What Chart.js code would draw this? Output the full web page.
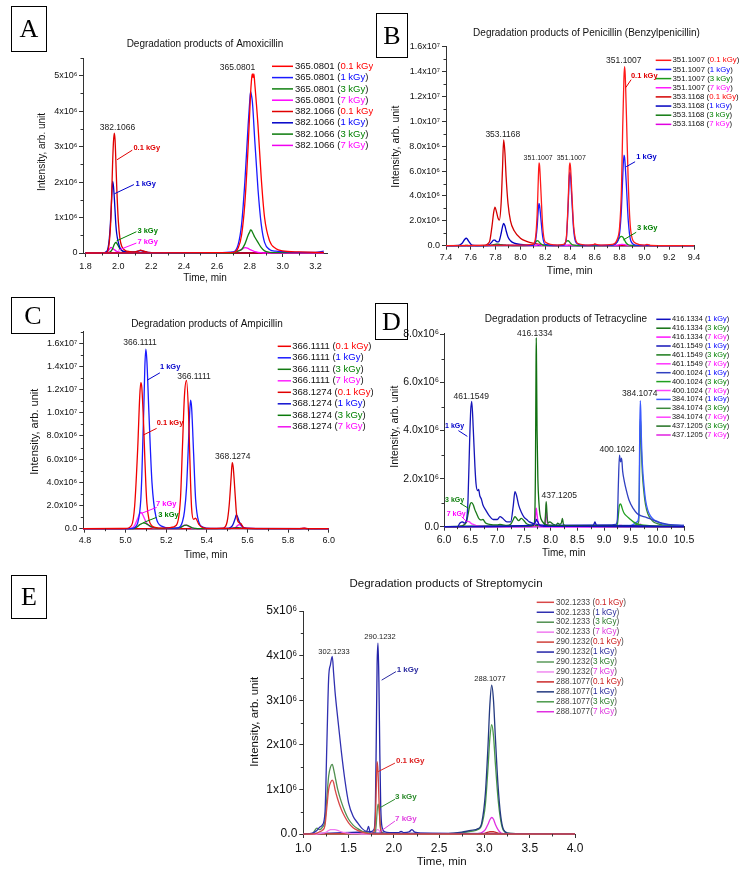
<!DOCTYPE html>
<html><head><meta charset="utf-8">
<script src="https://cdn.jsdelivr.net/npm/chart.js@4.4.1/dist/chart.umd.min.js"></script>
<style>
html,body{margin:0;padding:0;background:#fff;}
#page{position:relative;width:746px;height:874px;overflow:hidden;background:#fff;}
canvas{position:absolute;}
.tag{position:absolute;border:1px solid #000;font-family:"Liberation Serif","Times New Roman",serif;font-size:26px;display:flex;align-items:center;justify-content:center;box-sizing:border-box;color:#000;}
</style></head>
<body><div id="page">
<canvas id="cA" width="373" height="292" style="left:0px;top:0px;width:373px;height:292px"></canvas>
<canvas id="cB" width="373" height="292" style="left:373px;top:0px;width:373px;height:292px"></canvas>
<canvas id="cC" width="373" height="280" style="left:0px;top:292px;width:373px;height:280px"></canvas>
<canvas id="cD" width="373" height="280" style="left:373px;top:292px;width:373px;height:280px"></canvas>
<canvas id="cE" width="746" height="302" style="left:0px;top:572px;width:746px;height:302px"></canvas>
<div class="tag" style="left:11px;top:6px;width:36px;height:46px">A</div>
<div class="tag" style="left:376px;top:13px;width:32px;height:45px">B</div>
<div class="tag" style="left:11px;top:297px;width:44px;height:37px">C</div>
<div class="tag" style="left:375px;top:303px;width:33px;height:37px">D</div>
<div class="tag" style="left:11px;top:575px;width:36px;height:44px">E</div>
</div>
<script>
// ===== DATA (time in min; intensity in units of 10^6 counts) =====
// --- A: Amoxicillin ---
const A_xTicks = [1.8, 2.0, 2.2, 2.4, 2.6, 2.8, 3.0, 3.2];
const A_yTicks = [0, 1, 2, 3, 4, 5];
const A_t365 = [1.80, 2.60, 2.70, 2.73, 2.75, 2.77, 2.79, 2.80, 2.805, 2.81, 2.815, 2.82, 2.825, 2.83, 2.85, 2.87, 2.89, 2.92, 2.96, 3.00, 3.10, 3.20, 3.25];
const A_365_01 = [0, 0.01, 0.02, 0.15, 0.5, 1.4, 3.0, 4.0, 4.5, 4.85, 5.05, 4.95, 5.05, 4.8, 3.6, 2.1, 1.0, 0.35, 0.12, 0.06, 0.03, 0.02, 0.02];
const A_365_1  = [0, 0.01, 0.03, 0.25, 0.8, 2.0, 3.6, 4.3, 4.55, 4.45, 4.3, 4.0, 3.6, 3.2, 1.8, 0.8, 0.3, 0.1, 0.05, 0.04, 0.02, 0.02, 0.05];
const A_365_3  = [0, 0, 0, 0.06, 0.1, 0.25, 0.5, 0.6, 0.65, 0.64, 0.6, 0.55, 0.5, 0.45, 0.3, 0.15, 0.06, 0.02, 0.01, 0.01, 0.01, 0.01, 0.01];
const A_365_7  = [0, 0, 0.01, 0.06, 0.1, 0.15, 0.13, 0.1, 0.09, 0.08, 0.07, 0.06, 0.05, 0.04, 0.02, 0.01, 0, 0, 0, 0, 0, 0, 0];
const A_t382 = [1.80, 1.90, 1.93, 1.945, 1.955, 1.96, 1.965, 1.97, 1.975, 1.98, 1.985, 1.99, 2.00, 2.01, 2.02, 2.04, 2.07, 2.10, 2.12, 2.135, 2.15, 2.18, 2.30, 3.25];
const A_382_01 = [0, 0, 0.02, 0.3, 1.0, 1.7, 2.5, 3.1, 3.38, 3.2, 2.6, 1.9, 0.9, 0.4, 0.2, 0.08, 0.04, 0.03, 0.05, 0.08, 0.06, 0.02, 0, 0];
const A_382_1  = [0, 0, 0.05, 0.4, 1.1, 1.6, 2.02, 1.9, 1.6, 1.2, 0.8, 0.55, 0.3, 0.15, 0.08, 0.04, 0.03, 0.03, 0.05, 0.07, 0.05, 0.02, 0, 0];
const A_382_3  = [0, 0, 0, 0.02, 0.05, 0.08, 0.12, 0.18, 0.24, 0.28, 0.30, 0.28, 0.2, 0.12, 0.07, 0.03, 0.01, 0, 0, 0, 0, 0, 0, 0];
const A_382_7  = [0, 0, 0.02, 0.1, 0.16, 0.15, 0.13, 0.11, 0.09, 0.08, 0.06, 0.05, 0.03, 0.02, 0.01, 0, 0, 0, 0, 0, 0, 0, 0, 0];

// --- B: Penicillin ---
const B_xTicks = [7.4, 7.6, 7.8, 8.0, 8.2, 8.4, 8.6, 8.8, 9.0, 9.2, 9.4];
const B_yTicks = [0, 2, 4, 6, 8, 10, 12, 14, 16];
const B_t351 = [7.40, 8.00, 8.10, 8.12, 8.135, 8.145, 8.15, 8.155, 8.165, 8.18, 8.20, 8.30, 8.35, 8.37, 8.385, 8.395, 8.40, 8.405, 8.415, 8.43, 8.46, 8.55, 8.59, 8.60, 8.61, 8.65, 8.74, 8.78, 8.80, 8.815, 8.825, 8.835, 8.84, 8.845, 8.855, 8.87, 8.89, 8.93, 9.00, 9.02, 9.05, 9.40];
const B_351_01 = [0, 0.05, 0.1, 0.5, 2.5, 5.5, 6.65, 6.4, 4.5, 1.5, 0.3, 0.05, 0.1, 0.6, 3.5, 6.3, 6.65, 6.2, 4.2, 1.5, 0.2, 0.05, 0.08, 0.15, 0.1, 0.05, 0.1, 0.5, 1.5, 4.5, 9.5, 13.5, 14.4, 13.8, 10.5, 5.0, 1.2, 0.2, 0.05, 0.1, 0.03, 0];
const B_351_1  = [0, 0.02, 0.03, 0.3, 1.5, 3.0, 3.4, 3.2, 2.2, 0.7, 0.1, 0.02, 0.05, 0.5, 3.2, 5.6, 5.9, 5.5, 3.7, 1.2, 0.15, 0.02, 0.05, 0.1, 0.05, 0.02, 0.05, 0.3, 1.0, 3.0, 5.5, 7.28, 7.1, 6.5, 4.8, 2.0, 0.4, 0.05, 0.02, 0.03, 0.01, 0];
const B_351_3  = [0, 0.01, 0.05, 0.25, 0.4, 0.38, 0.3, 0.25, 0.15, 0.05, 0.02, 0.01, 0.1, 0.35, 0.4, 0.32, 0.25, 0.2, 0.1, 0.04, 0.01, 0, 0, 0.02, 0, 0, 0.05, 0.3, 0.65, 0.75, 0.7, 0.55, 0.45, 0.35, 0.2, 0.08, 0.02, 0.01, 0, 0, 0, 0];
const B_351_7  = [0, 0.01, 0.01, 0.02, 0.05, 0.06, 0.06, 0.05, 0.04, 0.02, 0.01, 0.01, 0.01, 0.02, 0.04, 0.05, 0.05, 0.04, 0.03, 0.02, 0.01, 0.01, 0.02, 0.05, 0.02, 0.01, 0.02, 0.05, 0.08, 0.1, 0.1, 0.09, 0.08, 0.07, 0.05, 0.03, 0.02, 0.01, 0.01, 0.02, 0.01, 0];
const B_t353 = [7.40, 7.50, 7.53, 7.55, 7.565, 7.58, 7.61, 7.70, 7.75, 7.77, 7.785, 7.795, 7.805, 7.82, 7.83, 7.845, 7.855, 7.865, 7.875, 7.885, 7.90, 7.92, 7.95, 8.00, 8.05, 8.10, 8.20, 8.40, 9.40];
const B_353_01 = [0, 0, 0, 0, 0, 0, 0, 0.02, 0.3, 1.5, 2.7, 3.1, 2.8, 2.2, 2.05, 3.5, 6.0, 8.5, 7.5, 5.5, 3.4, 2.0, 1.2, 0.6, 0.35, 0.2, 0.05, 0.02, 0];
const B_353_1  = [0, 0.02, 0.2, 0.5, 0.6, 0.4, 0.05, 0.01, 0.1, 0.3, 0.45, 0.45, 0.35, 0.3, 0.4, 1.0, 1.5, 1.8, 1.6, 1.2, 0.7, 0.4, 0.2, 0.1, 0.05, 0.03, 0.02, 0, 0];
const B_353_3  = [0, 0, 0, 0.01, 0.02, 0.01, 0, 0, 0.02, 0.05, 0.08, 0.1, 0.12, 0.12, 0.1, 0.08, 0.06, 0.05, 0.04, 0.03, 0.02, 0.01, 0.01, 0, 0, 0, 0, 0, 0];
const B_353_7  = [0, 0, 0, 0, 0.01, 0, 0, 0, 0.01, 0.03, 0.05, 0.06, 0.07, 0.08, 0.08, 0.07, 0.06, 0.05, 0.04, 0.03, 0.02, 0.02, 0.01, 0.01, 0, 0, 0, 0, 0];

// --- C: Ampicillin ---
const C_xTicks = [4.8, 5.0, 5.2, 5.4, 5.6, 5.8, 6.0];
const C_yTicks = [0, 2, 4, 6, 8, 10, 12, 14, 16];
const C_t366 = [4.79, 5.00, 5.03, 5.045, 5.06, 5.07, 5.075, 5.08, 5.09, 5.095, 5.10, 5.105, 5.115, 5.13, 5.15, 5.18, 5.22, 5.25, 5.27, 5.28, 5.29, 5.30, 5.31, 5.315, 5.32, 5.325, 5.335, 5.345, 5.36, 5.38, 5.42, 6.00];
const C_366_01 = [0, 0.02, 0.3, 2.0, 7.0, 11.5, 12.6, 12.2, 8.5, 6.0, 3.8, 2.2, 0.8, 0.25, 0.1, 0.05, 0.1, 0.3, 2.5, 7.0, 11.5, 12.8, 10.0, 7.0, 4.0, 1.8, 0.8, 0.9, 0.4, 0.1, 0.02, 0];
const C_366_1  = [0, 0, 0.02, 0.1, 0.5, 1.5, 2.5, 4.5, 10.5, 14.0, 15.5, 14.5, 10.0, 4.0, 1.0, 0.2, 0.05, 0.05, 0.2, 0.6, 1.5, 3.5, 7.5, 9.8, 11.1, 10.5, 6.5, 2.5, 0.6, 0.15, 0.02, 0];
const C_366_3  = [0, 0, 0, 0.05, 0.2, 0.35, 0.4, 0.45, 0.5, 0.48, 0.45, 0.4, 0.3, 0.15, 0.05, 0.02, 0.02, 0.05, 0.1, 0.2, 0.28, 0.3, 0.25, 0.2, 0.15, 0.1, 0.05, 0.02, 0, 0, 0, 0];
const C_366_7  = [0, 0, 0.05, 0.3, 0.9, 1.3, 1.4, 1.35, 1.0, 0.8, 0.6, 0.45, 0.25, 0.1, 0.05, 0.02, 0.02, 0.05, 0.1, 0.2, 0.3, 0.3, 0.2, 0.15, 0.1, 0.05, 0.02, 0.01, 0, 0, 0, 0];
const C_t368 = [4.79, 5.40, 5.48, 5.50, 5.51, 5.52, 5.525, 5.53, 5.54, 5.545, 5.55, 5.56, 5.57, 5.58, 5.60, 5.70, 5.85, 5.88, 5.90, 6.00];
const C_368_01 = [0, 0, 0.05, 0.6, 2.0, 4.5, 5.7, 5.3, 2.8, 1.5, 0.8, 0.5, 0.4, 0.1, 0.03, 0.01, 0.01, 0.05, 0.01, 0];
const C_368_1  = [0, 0, 0, 0.02, 0.05, 0.15, 0.25, 0.4, 0.9, 1.2, 1.1, 0.6, 0.3, 0.1, 0.03, 0.01, 0.01, 0.02, 0.01, 0];
const C_368_3  = [0, 0, 0, 0, 0.01, 0.02, 0.03, 0.05, 0.08, 0.1, 0.1, 0.08, 0.05, 0.02, 0.01, 0, 0, 0, 0, 0];
const C_368_7  = [0, 0, 0, 0, 0.01, 0.02, 0.03, 0.05, 0.1, 0.15, 0.25, 0.35, 0.25, 0.1, 0.03, 0.01, 0.01, 0.02, 0.01, 0];

// --- D: Tetracycline ---
const D_xTicks = [6.0, 6.5, 7.0, 7.5, 8.0, 8.5, 9.0, 9.5, 10.0, 10.5];
const D_yTicks = [0, 2, 4, 6, 8];
const D_t416 = [6.00, 7.60, 7.68, 7.70, 7.715, 7.725, 7.73, 7.735, 7.745, 7.76, 7.78, 7.80, 7.85, 7.90, 8.00, 10.50];
const D_416_1 = [0, 0.05, 0.1, 0.15, 0.2, 0.25, 0.3, 0.3, 0.25, 0.2, 0.1, 0.05, 0.02, 0.01, 0.01, 0];
const D_416_3 = [0, 0.02, 0.05, 0.3, 2.5, 6.5, 7.87, 6.8, 4.0, 2.0, 1.0, 0.5, 0.2, 0.1, 0.05, 0];
const D_416_7 = [0, 0, 0.01, 0.1, 0.4, 0.7, 0.77, 0.7, 0.5, 0.25, 0.08, 0.03, 0.01, 0, 0, 0];
const D_t461 = [6.00, 6.25, 6.30, 6.35, 6.38, 6.42, 6.45, 6.48, 6.50, 6.52, 6.55, 6.58, 6.60, 6.63, 6.65, 6.67, 6.70, 6.73, 6.78, 6.85, 6.92, 7.00, 7.05, 7.10, 7.18, 7.25, 7.30, 7.33, 7.36, 7.40, 7.45, 7.50, 7.55, 7.60, 7.70, 7.80, 8.00, 8.50, 8.80, 8.83, 8.86, 9.00, 9.10, 10.50];
const D_461_1 = [0, 0, 0.15, 0.2, 0.15, 0.25, 1.1, 3.5, 4.8, 5.22, 4.0, 2.5, 1.8, 1.5, 1.55, 1.3, 1.15, 0.9, 0.7, 0.45, 0.3, 0.3, 0.42, 0.35, 0.2, 0.2, 0.9, 1.46, 1.3, 0.9, 0.6, 0.4, 0.3, 0.2, 0.12, 0.08, 0.05, 0.05, 0.05, 0.2, 0.05, 0.05, 0.05, 0];
const D_461_3 = [0, 0, 0.02, 0.05, 0.08, 0.2, 0.5, 0.85, 0.98, 1.0, 0.9, 0.7, 0.6, 0.45, 0.35, 0.3, 0.28, 0.3, 0.15, 0.1, 0.08, 0.08, 0.1, 0.08, 0.05, 0.1, 0.3, 0.42, 0.35, 0.25, 0.35, 0.25, 0.12, 0.08, 0.05, 0.04, 0.03, 0.02, 0.02, 0.02, 0.02, 0.02, 0.02, 0];
const D_461_7 = [0, 0, 0.02, 0.05, 0.1, 0.2, 0.22, 0.2, 0.15, 0.12, 0.1, 0.07, 0.05, 0.04, 0.03, 0.02, 0.02, 0.02, 0.01, 0.01, 0.01, 0.01, 0.01, 0.01, 0.01, 0.01, 0.01, 0.01, 0.01, 0.01, 0.01, 0.01, 0.01, 0.01, 0.01, 0.01, 0, 0, 0, 0, 0, 0, 0, 0];
const D_t400 = [6.00, 9.15, 9.22, 9.25, 9.27, 9.29, 9.31, 9.33, 9.35, 9.38, 9.42, 9.47, 9.55, 9.62, 9.70, 9.80, 9.90, 10.00, 10.20, 10.50];
const D_400_1 = [0, 0.08, 0.1, 0.3, 1.8, 2.98, 2.7, 2.85, 2.3, 1.9, 1.5, 1.1, 0.75, 0.55, 0.45, 0.38, 0.3, 0.2, 0.1, 0.05];
const D_400_3 = [0, 0.03, 0.05, 0.1, 0.5, 0.9, 0.95, 0.85, 0.7, 0.55, 0.45, 0.35, 0.2, 0.12, 0.08, 0.05, 0.03, 0.02, 0.01, 0];
const D_400_7 = [0, 0, 0, 0.01, 0.03, 0.05, 0.05, 0.05, 0.04, 0.03, 0.02, 0.01, 0.01, 0.01, 0.01, 0.01, 0, 0, 0, 0];
const D_t384 = [6.00, 9.50, 9.62, 9.65, 9.66, 9.67, 9.68, 9.69, 9.70, 9.72, 9.75, 9.78, 9.82, 9.87, 9.93, 10.00, 10.10, 10.25, 10.50];
const D_384_1 = [0, 0.05, 0.2, 0.4, 1.5, 4.0, 5.25, 4.8, 3.8, 2.6, 1.7, 1.1, 0.7, 0.45, 0.3, 0.22, 0.12, 0.08, 0.05];
const D_384_3 = [0, 0.03, 0.1, 0.2, 1.0, 3.0, 4.5, 4.2, 3.3, 2.2, 1.4, 0.9, 0.55, 0.35, 0.2, 0.13, 0.08, 0.05, 0.03];
const D_384_7 = [0, 0, 0.02, 0.05, 0.08, 0.1, 0.12, 0.1, 0.08, 0.05, 0.03, 0.02, 0.01, 0.01, 0, 0, 0, 0, 0];
const D_t437 = [6.00, 7.85, 7.89, 7.905, 7.915, 7.925, 7.935, 7.95, 7.98, 8.05, 8.10, 8.13, 8.17, 8.20, 8.22, 8.24, 8.30, 10.50];
const D_437_3 = [0, 0.02, 0.1, 0.6, 1.04, 0.8, 0.4, 0.15, 0.2, 0.1, 0.05, 0.15, 0.1, 0.15, 0.35, 0.1, 0.02, 0];
const D_437_7 = [0, 0, 0.05, 0.4, 0.7, 0.5, 0.2, 0.05, 0.02, 0.01, 0, 0, 0, 0, 0, 0, 0, 0];

// --- E: Streptomycin ---
const E_xTicks = [1.0, 1.5, 2.0, 2.5, 3.0, 3.5, 4.0];
const E_yTicks = [0, 1, 2, 3, 4, 5];
const E_t302 = [1.00, 1.10, 1.15, 1.18, 1.21, 1.24, 1.26, 1.28, 1.30, 1.32, 1.335, 1.35, 1.38, 1.42, 1.46, 1.50, 1.55, 1.60, 1.65, 1.70, 1.72, 1.74, 1.78, 4.00];
const E_302_01 = [0, 0, 0.02, 0.05, 0.08, 0.2, 0.6, 1.0, 1.15, 1.21, 1.15, 1.0, 0.78, 0.55, 0.38, 0.25, 0.14, 0.08, 0.04, 0.02, 0.01, 0.01, 0, 0];
const E_302_1  = [0, 0.02, 0.08, 0.15, 0.2, 0.5, 2.0, 3.5, 3.8, 3.98, 3.6, 3.2, 2.6, 1.85, 1.2, 0.7, 0.4, 0.25, 0.12, 0.06, 0.17, 0.02, 0.02, 0];
const E_302_3  = [0, 0.01, 0.13, 0.1, 0.15, 0.3, 0.8, 1.3, 1.5, 1.56, 1.45, 1.3, 1.0, 0.72, 0.5, 0.33, 0.2, 0.12, 0.06, 0.03, 0.02, 0.01, 0, 0];
const E_302_7  = [0, 0, 0, 0.01, 0.02, 0.03, 0.05, 0.08, 0.1, 0.1, 0.1, 0.1, 0.08, 0.05, 0.03, 0.02, 0.01, 0.01, 0, 0, 0, 0, 0, 0];
const E_t290 = [1.00, 1.74, 1.78, 1.795, 1.805, 1.815, 1.825, 1.835, 1.845, 1.855, 1.87, 1.90, 1.95, 2.05, 2.08, 2.11, 2.17, 2.20, 2.23, 2.30, 4.00];
const E_290_01 = [0, 0.01, 0.05, 0.3, 1.0, 1.62, 1.4, 0.8, 0.3, 0.08, 0.02, 0.01, 0, 0, 0, 0, 0, 0, 0, 0, 0];
const E_290_1  = [0, 0.05, 0.1, 0.5, 2.0, 3.8, 4.28, 3.4, 1.8, 0.6, 0.15, 0.05, 0.03, 0.03, 0.06, 0.03, 0.05, 0.1, 0.04, 0.02, 0];
const E_290_3  = [0, 0, 0.01, 0.05, 0.2, 0.5, 0.67, 0.6, 0.35, 0.12, 0.04, 0.01, 0, 0, 0, 0, 0, 0, 0, 0, 0];
const E_290_7  = [0, 0, 0, 0.02, 0.06, 0.1, 0.1, 0.08, 0.05, 0.02, 0.01, 0, 0, 0, 0, 0, 0, 0, 0, 0, 0];
const E_t288 = [1.00, 2.60, 2.75, 2.85, 2.93, 2.97, 3.01, 3.04, 3.06, 3.08, 3.10, 3.12, 3.15, 3.18, 3.21, 3.26, 3.40, 4.00];
const E_288_01 = [0, 0, 0, 0, 0, 0, 0.02, 0.04, 0.05, 0.05, 0.05, 0.04, 0.02, 0.01, 0, 0, 0, 0];
const E_288_1  = [0, 0.01, 0.04, 0.08, 0.12, 0.25, 0.9, 2.0, 2.9, 3.34, 3.0, 2.2, 1.1, 0.4, 0.1, 0.02, 0.01, 0];
const E_288_3  = [0, 0.01, 0.03, 0.06, 0.1, 0.2, 0.65, 1.5, 2.15, 2.45, 2.2, 1.6, 0.8, 0.3, 0.08, 0.02, 0.01, 0];
const E_288_7  = [0, 0, 0, 0, 0.01, 0.03, 0.1, 0.22, 0.32, 0.37, 0.33, 0.22, 0.1, 0.03, 0.01, 0, 0, 0];

// ===== RENDERING =====
const FONT = '"Liberation Sans", Arial, Helvetica, sans-serif';
const AXIS = '#333';
Chart.defaults.font.family = FONT;

function ds(mz, dose, t, v, color, sep) {
  return { label: mz + (sep || ' (') + dose + ')', mz: mz, dose: dose, sep: sep || ' (',
    data: t.map((x, i) => ({ x: x, y: v[i] })), borderColor: color, backgroundColor: color,
    borderWidth: 1.3, pointRadius: 0, fill: false, cubicInterpolationMode: 'monotone', clip: false };
}
const fmtA = v => v === 0 ? '0' : v + 'x10\u2076';
const fmtE = v => v === 0 ? '0.0' : v + 'x10\u2076';
const fmtBC = v => v === 0 ? '0.0' : (v >= 10 ? (v / 10).toFixed(1) + 'x10\u2077' : v.toFixed(1) + 'x10\u2076');
const fmtD = v => v === 0 ? '0.0' : v.toFixed(1) + 'x10\u2076';

const doseStd = { '0.1 kGy': '#ff0000', '1 kGy': '#0000ff', '3 kGy': '#008000', '7 kGy': '#ff00ff' };
const doseE = { '0.1 kGy': '#cc2020', '1 kGy': '#2a2a9a', '3 kGy': '#2a7a2a', '7 kGy': '#dd33dd' };

const panels = [
{ id: 'cA', canvas: [0, 0, 373, 292], plot: [83, 58, 327, 253],
  x: { min: 1.785, max: 3.27, ticks: A_xTicks, minor: 0.1, font: 9, pad: 4 },
  y: { min: 0, max: 5.5, ticks: A_yTicks, minor: 0.5, font: 9, pad: 1.5, fmt: fmtA },
  datasets: [
    ds('365.0801', '0.1 kGy', A_t365, A_365_01, '#ff0000'), ds('365.0801', '1 kGy', A_t365, A_365_1, '#1a1aff'),
    ds('365.0801', '3 kGy', A_t365, A_365_3, '#108010'), ds('365.0801', '7 kGy', A_t365, A_365_7, '#ff00ff'),
    ds('382.1066', '0.1 kGy', A_t382, A_382_01, '#e00000'), ds('382.1066', '1 kGy', A_t382, A_382_1, '#0000c8'),
    ds('382.1066', '3 kGy', A_t382, A_382_3, '#0a7a0a'), ds('382.1066', '7 kGy', A_t382, A_382_7, '#f000f0')],
  title: { text: 'Degradation products of Amoxicillin', x: 205, y: 44, size: 10 },
  xTitle: { x: 205, y: 278, size: 10 }, yTitle: { x: 42, y: 152, size: 10 },
  legend: { x1: 272, x2: 293, tx: 295, y0: 66.3, dy: 11.3, size: 9.5, dc: doseStd, tc: '#111' },
  notes: [
    { t: 1.995, v: 3.54, text: '382.1066', size: 8.5 }, { t: 2.725, v: 5.24, text: '365.0801', size: 8.5 },
    { t: 2.092, v: 2.95, text: '0.1 kGy', size: 7.5, bold: 1, color: '#e00000', left: 1 },
    { t: 2.104, v: 1.95, text: '1 kGy', size: 7.5, bold: 1, color: '#0000cc', left: 1 },
    { t: 2.116, v: 0.62, text: '3 kGy', size: 7.5, bold: 1, color: '#008000', left: 1 },
    { t: 2.116, v: 0.31, text: '7 kGy', size: 7.5, bold: 1, color: '#ff00ff', left: 1 }],
  leaders: [[1.992, 2.63, 2.085, 2.9, '#e00000'], [1.976, 1.67, 2.095, 1.93, '#0000cc'], [1.989, 0.34, 2.11, 0.6, '#008000'], [2.0, 0.08, 2.11, 0.28, '#ff00ff']] },

{ id: 'cB', canvas: [373, 0, 373, 292], plot: [446, 46.7, 694, 245.7],
  x: { min: 7.4, max: 9.4, ticks: B_xTicks, minor: 0.1, font: 9, pad: 2.5 },
  y: { min: 0, max: 16, ticks: B_yTicks, minor: 1, font: 9, pad: 2, fmt: fmtBC },
  datasets: [
    ds('351.1007', '0.1 kGy', B_t351, B_351_01, '#ff1a1a'), ds('351.1007', '1 kGy', B_t351, B_351_1, '#1a1aff'),
    ds('351.1007', '3 kGy', B_t351, B_351_3, '#1a9a1a'), ds('351.1007', '7 kGy', B_t351, B_351_7, '#ff1aff'),
    ds('353.1168', '0.1 kGy', B_t353, B_353_01, '#d40000'), ds('353.1168', '1 kGy', B_t353, B_353_1, '#0000c0'),
    ds('353.1168', '3 kGy', B_t353, B_353_3, '#107a10'), ds('353.1168', '7 kGy', B_t353, B_353_7, '#e000e0')],
  title: { text: 'Degradation products of Penicillin (Benzylpenicillin)', x: 586.5, y: 33, size: 10 },
  xTitle: { x: 569.7, y: 270.7, size: 10.5 }, yTitle: { x: 396.3, y: 146.7, size: 10.5 },
  legend: { x1: 655.7, x2: 671.3, tx: 672.5, y0: 60.3, dy: 9.15, size: 7.8, dc: doseStd, tc: '#111' },
  notes: [
    { t: 7.858, v: 8.89, text: '353.1168', size: 8.5 }, { t: 8.143, v: 7.02, text: '351.1007', size: 7 },
    { t: 8.41, v: 7.02, text: '351.1007', size: 7 }, { t: 8.834, v: 14.84, text: '351.1007', size: 8.5 },
    { t: 8.891, v: 13.65, text: '0.1 kGy', size: 7.5, bold: 1, color: '#e00000', left: 1 },
    { t: 8.934, v: 7.1, text: '1 kGy', size: 7.5, bold: 1, color: '#0000cc', left: 1 },
    { t: 8.94, v: 1.4, text: '3 kGy', size: 7.5, bold: 1, color: '#008000', left: 1 }],
  leaders: [[8.85, 12.72, 8.893, 13.35, '#e00000'], [8.853, 6.35, 8.925, 6.75, '#0000cc'], [8.83, 0.46, 8.934, 1.08, '#008000']] },

{ id: 'cC', canvas: [0, 292, 373, 280], plot: [83.3, 331.7, 328.7, 528.7],
  x: { min: 4.792, max: 6.0, ticks: C_xTicks, minor: 0.1, font: 9, pad: 2.5 },
  y: { min: 0, max: 17, ticks: C_yTicks, minor: 1, font: 9, pad: 2, fmt: fmtBC },
  datasets: [
    ds('366.1111', '0.1 kGy', C_t366, C_366_01, '#f00000'), ds('366.1111', '1 kGy', C_t366, C_366_1, '#1a1aff'),
    ds('366.1111', '3 kGy', C_t366, C_366_3, '#127a12'), ds('366.1111', '7 kGy', C_t366, C_366_7, '#ff22ff'),
    ds('368.1274', '0.1 kGy', C_t368, C_368_01, '#e00000'), ds('368.1274', '1 kGy', C_t368, C_368_1, '#1010d0'),
    ds('368.1274', '3 kGy', C_t368, C_368_3, '#0a7a0a'), ds('368.1274', '7 kGy', C_t368, C_368_7, '#f010f0')],
  title: { text: 'Degradation products of Ampicillin', x: 207, y: 324, size: 10 },
  xTitle: { x: 205.7, y: 555, size: 10 }, yTitle: { x: 35, y: 431.7, size: 11 },
  legend: { x1: 277.7, x2: 291, tx: 292.3, y0: 346.3, dy: 11.5, size: 9.5, dc: doseStd, tc: '#111' },
  notes: [
    { t: 5.071, v: 16.03, text: '366.1111', size: 8.5 }, { t: 5.337, v: 13.16, text: '366.1111', size: 8.5 },
    { t: 5.528, v: 6.21, text: '368.1274', size: 8.5 },
    { t: 5.169, v: 13.97, text: '1 kGy', size: 7.5, bold: 1, color: '#0000cc', left: 1 },
    { t: 5.153, v: 9.14, text: '0.1 kGy', size: 7.5, bold: 1, color: '#e00000', left: 1 },
    { t: 5.150, v: 2.10, text: '7 kGy', size: 7.5, bold: 1, color: '#ff00ff', left: 1 },
    { t: 5.161, v: 1.18, text: '3 kGy', size: 7.5, bold: 1, color: '#008000', left: 1 }],
  leaders: [[5.107, 12.82, 5.169, 13.45, '#0000cc'], [5.087, 8.08, 5.153, 8.66, '#e00000'], [5.079, 1.33, 5.153, 1.84, '#ff00ff'], [5.087, 0.52, 5.153, 0.98, '#008000']] },

{ id: 'cD', canvas: [373, 292, 373, 280], plot: [444, 333.3, 684, 526.7],
  x: { min: 6.0, max: 10.5, ticks: D_xTicks, minor: 0.25, font: 10.5, pad: 3 },
  y: { min: 0, max: 8.05, ticks: D_yTicks, minor: 1, font: 10.5, pad: 1, fmt: fmtD },
  datasets: [
    ds('416.1334', '1 kGy', D_t416, D_416_1, '#1010c0'), ds('416.1334', '3 kGy', D_t416, D_416_3, '#107010'),
    ds('416.1334', '7 kGy', D_t416, D_416_7, '#ff10ff'),
    ds('461.1549', '1 kGy', D_t461, D_461_1, '#1515b8'), ds('461.1549', '3 kGy', D_t461, D_461_3, '#1a7a1a'),
    ds('461.1549', '7 kGy', D_t461, D_461_7, '#ff33ff'),
    ds('400.1024', '1 kGy', D_t400, D_400_1, '#3040c0'), ds('400.1024', '3 kGy', D_t400, D_400_3, '#20a020'),
    ds('400.1024', '7 kGy', D_t400, D_400_7, '#ff40ff'),
    ds('384.1074', '1 kGy', D_t384, D_384_1, '#3a5aff'), ds('384.1074', '3 kGy', D_t384, D_384_3, '#3a8a3a'),
    ds('384.1074', '7 kGy', D_t384, D_384_7, '#ff40ff'),
    ds('437.1205', '3 kGy', D_t437, D_437_3, '#207020'), ds('437.1205', '7 kGy', D_t437, D_437_7, '#e020e0')],
  title: { text: 'Degradation products of Tetracycline', x: 566, y: 319.3, size: 10 },
  xTitle: { x: 563.7, y: 553.3, size: 10 }, yTitle: { x: 394.7, y: 426.7, size: 10.5 },
  legend: { x1: 656.3, x2: 670.7, tx: 672, y0: 319.3, dy: 8.9, size: 7.4, dc: doseStd, tc: '#111' },
  notes: [
    { t: 7.70, v: 8.02, text: '416.1334', size: 8.5 }, { t: 6.51, v: 5.43, text: '461.1549', size: 8.5 },
    { t: 8.16, v: 1.3, text: '437.1205', size: 8.5 }, { t: 9.25, v: 3.2, text: '400.1024', size: 8.5 },
    { t: 9.67, v: 5.53, text: '384.1074', size: 8.5 },
    { t: 6.02, v: 4.18, text: '1 kGy', size: 7, bold: 1, color: '#0000cc', left: 1 },
    { t: 6.02, v: 1.11, text: '3 kGy', size: 7, bold: 1, color: '#108010', left: 1 },
    { t: 6.05, v: 0.53, text: '7 kGy', size: 7, bold: 1, color: '#ff00ff', left: 1 }],
  leaders: [[6.27, 4.0, 6.437, 3.76, '#0000cc'], [6.3, 0.98, 6.455, 0.77, '#108010'], [6.33, 0.42, 6.425, 0.21, '#ff00ff']] },

{ id: 'cE', canvas: [0, 572, 746, 302], plot: [303.3, 611, 575, 834],
  x: { min: 1.0, max: 4.0, ticks: E_xTicks, minor: 0.25, font: 12, pad: 3 },
  y: { min: 0, max: 5, ticks: E_yTicks, minor: 0.5, font: 12, pad: 2, fmt: fmtE },
  datasets: [
    ds('302.1233', '0.1 kGy', E_t302, E_302_01, '#d84848'), ds('302.1233', '1 kGy', E_t302, E_302_1, '#3030b0'),
    ds('302.1233', '3 kGy', E_t302, E_302_3, '#4f8f4f'), ds('302.1233', '7 kGy', E_t302, E_302_7, '#f07af0'),
    ds('290.1232', '0.1 kGy', E_t290, E_290_01, '#d0403a', '('), ds('290.1232', '1 kGy', E_t290, E_290_1, '#2424a8', '('),
    ds('290.1232', '3 kGy', E_t290, E_290_3, '#5a9a5a', '('), ds('290.1232', '7 kGy', E_t290, E_290_7, '#f08af0', '('),
    ds('288.1077', '0.1 kGy', E_t288, E_288_01, '#cc2a2a', '('), ds('288.1077', '1 kGy', E_t288, E_288_1, '#243a80', '('),
    ds('288.1077', '3 kGy', E_t288, E_288_3, '#4a9a4a', '('), ds('288.1077', '7 kGy', E_t288, E_288_7, '#e030e0', '(')],
  title: { text: 'Degradation products of Streptomycin', x: 446, y: 584.3, size: 11.5 },
  xTitle: { x: 441.7, y: 861.7, size: 11.5 }, yTitle: { x: 255, y: 721.7, size: 11.5 },
  legend: { x1: 536.7, x2: 554, tx: 556, y0: 602.3, dy: 9.95, size: 8.2, dc: doseE, tc: '#444' },
  notes: [
    { t: 1.339, v: 4.09, text: '302.1233', size: 7.5 }, { t: 1.847, v: 4.41, text: '290.1232', size: 7.5 },
    { t: 3.061, v: 3.48, text: '288.1077', size: 7.5 },
    { t: 2.031, v: 3.68, text: '1 kGy', size: 8, bold: 1, color: '#2a2aa0', left: 1 },
    { t: 2.023, v: 1.64, text: '0.1 kGy', size: 8, bold: 1, color: '#dd2222', left: 1 },
    { t: 2.012, v: 0.84, text: '3 kGy', size: 8, bold: 1, color: '#2a8a2a', left: 1 },
    { t: 2.012, v: 0.35, text: '7 kGy', size: 8, bold: 1, color: '#e040e0', left: 1 }],
  leaders: [[1.865, 3.45, 2.023, 3.64, '#2a2aa0'], [1.828, 1.40, 2.012, 1.59, '#dd2222'], [1.847, 0.59, 2.012, 0.78, '#2a8a2a'], [1.847, 0.05, 2.012, 0.29, '#e040e0']] }
];

function setFont(c, size, bold) { c.font = (bold ? 'bold ' : '') + size + 'px ' + FONT; }
function minorList(ax) {
  const out = [];
  for (let v = ax.ticks[0] - ax.minor; v <= ax.max + 1e-9; v += ax.minor) {
    const r = Math.round(v * 1000) / 1000;
    if (r < ax.min - 1e-9) continue;
    if (ax.ticks.some(t => Math.abs(t - r) < 1e-6)) continue;
    out.push(r);
  }
  return out;
}
function makeDecor(P) {
  return { id: 'decor', afterDraw(chart) {
    const c = chart.ctx, xs = chart.scales.x, ys = chart.scales.y, A = chart.chartArea;
    const ox = P.canvas[0], oy = P.canvas[1];
    c.save();
    c.strokeStyle = AXIS; c.lineWidth = 1;
    minorList(P.x).forEach(v => { const p = Math.round(xs.getPixelForValue(v)) + 0.5; c.beginPath(); c.moveTo(p, A.bottom); c.lineTo(p, A.bottom + 2.5); c.stroke(); });
    minorList(P.y).forEach(v => { const p = Math.round(ys.getPixelForValue(v)) + 0.5; c.beginPath(); c.moveTo(A.left, p); c.lineTo(A.left - 2.5, p); c.stroke(); });
    c.textBaseline = 'middle'; c.fillStyle = '#111'; c.textAlign = 'center';
    setFont(c, P.title.size); c.fillText(P.title.text, P.title.x - ox, P.title.y - oy);
    setFont(c, P.xTitle.size); c.fillText('Time, min', P.xTitle.x - ox, P.xTitle.y - oy);
    c.save(); c.translate(P.yTitle.x - ox, P.yTitle.y - oy); c.rotate(-Math.PI / 2);
    setFont(c, P.yTitle.size); c.fillText('Intensity, arb. unit', 0, 0); c.restore();
    const L = P.legend;
    chart.data.datasets.forEach((d, i) => {
      const y = L.y0 + i * L.dy - oy;
      c.strokeStyle = d.borderColor; c.lineWidth = 1.5;
      c.beginPath(); c.moveTo(L.x1 - ox, y); c.lineTo(L.x2 - ox, y); c.stroke();
      setFont(c, L.size); c.textAlign = 'left';
      let x = L.tx - ox;
      [[d.mz, L.tc], [d.sep, L.tc], [d.dose, L.dc[d.dose]], [')', L.tc]].forEach(p => {
        c.fillStyle = p[1]; c.fillText(p[0], x, y); x += c.measureText(p[0]).width;
      });
    });
    c.lineWidth = 1;
    P.leaders.forEach(l => {
      c.strokeStyle = l[4]; c.beginPath();
      c.moveTo(xs.getPixelForValue(l[0]), ys.getPixelForValue(l[1]));
      c.lineTo(xs.getPixelForValue(l[2]), ys.getPixelForValue(l[3])); c.stroke();
    });
    P.notes.forEach(n => {
      setFont(c, n.size, n.bold); c.fillStyle = n.color || '#222';
      c.textAlign = n.left ? 'left' : 'center';
      c.fillText(n.text, xs.getPixelForValue(n.t), ys.getPixelForValue(n.v));
    });
    c.restore();
  }};
}

panels.forEach(P => {
  const [cx, cy, cw, ch] = P.canvas, [l, t, r, b] = P.plot;
  const yW = l - cx, xH = cy + ch - b;
  new Chart(document.getElementById(P.id), {
    type: 'line',
    data: { datasets: P.datasets },
    options: {
      responsive: false, animation: false, events: [],
      layout: { padding: { left: 0, top: t - cy, right: cx + cw - r, bottom: 0 } },
      plugins: { legend: { display: false }, tooltip: { enabled: false }, title: { display: false } },
      scales: {
        x: { type: 'linear', min: P.x.min, max: P.x.max,
          afterBuildTicks: s => { s.ticks = P.x.ticks.map(v => ({ value: v })); },
          afterFit: s => { s.height = xH; s.paddingLeft = 0; s.paddingRight = 0; },
          ticks: { autoSkip: false, maxRotation: 0, minRotation: 0, padding: P.x.pad, color: '#111',
            font: { size: P.x.font, family: FONT }, callback: v => Number(v).toFixed(1) },
          grid: { drawOnChartArea: false, drawTicks: true, tickLength: 4, color: AXIS },
          border: { display: true, color: AXIS, width: 1 } },
        y: { type: 'linear', min: P.y.min, max: P.y.max,
          afterBuildTicks: s => { s.ticks = P.y.ticks.map(v => ({ value: v })); },
          afterFit: s => { s.width = yW; s.paddingTop = 0; s.paddingBottom = 0; },
          ticks: { autoSkip: false, padding: P.y.pad, color: '#111',
            font: { size: P.y.font, family: FONT }, callback: v => P.y.fmt(v) },
          grid: { drawOnChartArea: false, drawTicks: true, tickLength: 4, color: AXIS },
          border: { display: true, color: AXIS, width: 1 } }
      }
    },
    plugins: [makeDecor(P)]
  });
});
</script>
</body></html>
